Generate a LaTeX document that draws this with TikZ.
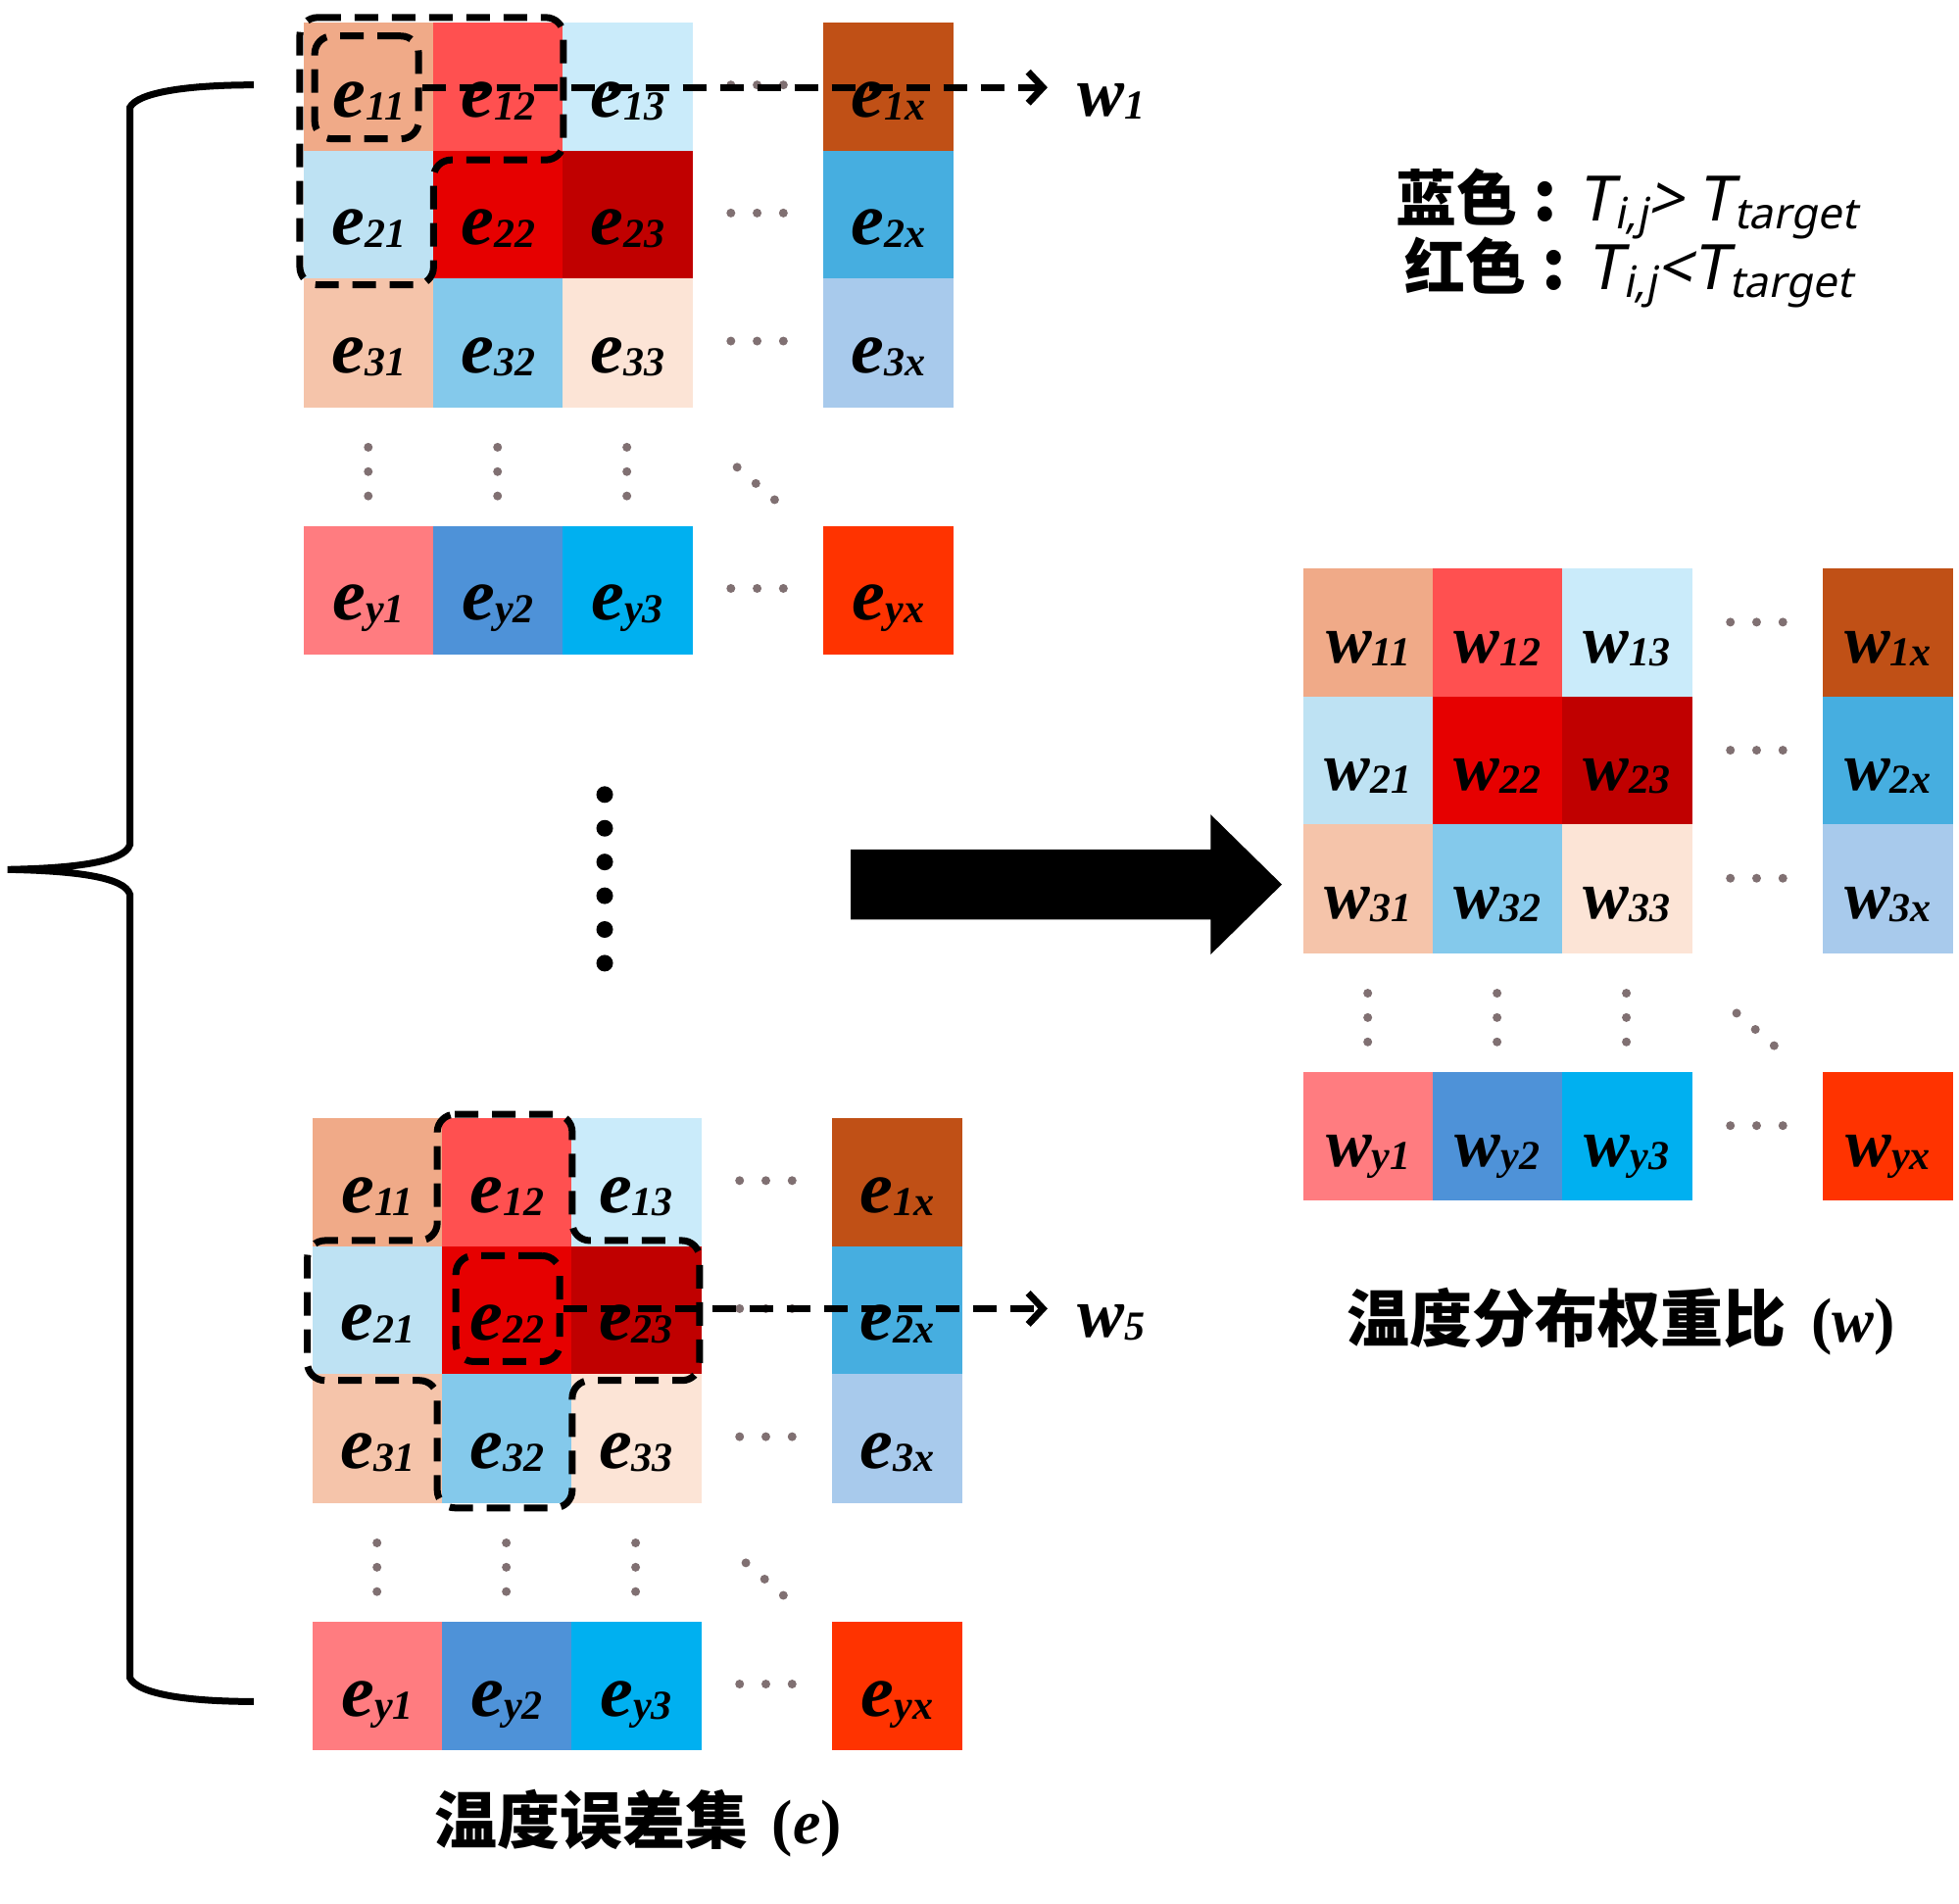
\documentclass[tikz,border=0pt]{standalone}
\usepackage{fontspec}
\setmainfont{Liberation Serif}
\newfontfamily\cjk{Noto Sans CJK SC}
\newfontfamily\tsans[FakeSlant=0.2]{Noto Sans}
\usetikzlibrary{arrows.meta}

\definecolor{col11}{RGB}{240,170,136}
\definecolor{col12}{RGB}{255,80,80}
\definecolor{col13}{RGB}{202,235,250}
\definecolor{col1x}{RGB}{192,80,22}
\definecolor{col21}{RGB}{190,226,243}
\definecolor{col22}{RGB}{230,0,0}
\definecolor{col23}{RGB}{192,0,0}
\definecolor{col2x}{RGB}{70,174,224}
\definecolor{col31}{RGB}{245,196,170}
\definecolor{col32}{RGB}{132,201,235}
\definecolor{col33}{RGB}{252,228,214}
\definecolor{col3x}{RGB}{168,202,236}
\definecolor{coly1}{RGB}{255,124,128}
\definecolor{coly2}{RGB}{78,146,216}
\definecolor{coly3}{RGB}{0,176,240}
\definecolor{colyx}{RGB}{255,51,0}
\definecolor{dotgray}{RGB}{128,112,114}

\newcommand\clab[3]{{\fontsize{#3}{#3}\selectfont\bfseries\itshape #1}{\fontsize{42}{42}\selectfont\bfseries\itshape\raisebox{-3pt}{#2}}}
\newcommand\legsub[1]{\kern1pt\raisebox{-8pt}{\fontsize{44}{44}\selectfont #1}}

\tikzset{
  cellbox/.style={minimum width=133pt, minimum height=131.5pt, inner sep=0pt, outer sep=0pt,
    text height=61pt, text depth=0pt, anchor=north west},
  dsh/.style={draw=black, line width=7pt, dash pattern=on 24pt off 14pt},
  gdot/.style={fill=dotgray},
  barb/.style={-{Straight Barb[length=15pt,width=32pt]}},
}

% prefix, letter, ox, oy, lettersize, dot offset
\newcommand\mygrid[6]{%
  \foreach \r/\ry in {1/0,2/102.5,3/205,y/403}{
    \foreach \c/\cx in {1/0,2/103.5,3/207,x/416}{
      \node[cellbox,fill=col\r\c] (#1\r\c) at (#3+\cx,#4+\ry) {\clab{#2}{\r\c}{#5}};
    }
    \foreach \k in {-1,0,1} \fill[gdot] (#3+363+21*\k,#4+\ry+#6) circle[radius=4.5pt];
  }
  \foreach \cx in {51.75,155.25,258.75} \foreach \dy in {340,359.5,379}
    \fill[gdot] (#3+\cx,#4+\dy) circle[radius=4.5pt];
  \foreach \dx/\dy in {347/356,362/369,377/382}
    \fill[gdot] (#3+\dx,#4+\dy) circle[radius=4.5pt];
}

\begin{document}
\begin{tikzpicture}[x=1.2749pt,y=-1.2749pt]
\useasboundingbox (0,0) rectangle (1568,1524);

% grids
\mygrid{T}{e}{243}{18}{76}{50}
\mygrid{B}{e}{250}{895}{76}{50}
\mygrid{R}{w}{1043}{455}{70}{43}

% brace
\draw[line width=7pt] (203,68) .. controls (150,68) and (110,74) .. (104,86) -- (104,676)
  .. controls (100,690) and (60,695) .. (6,696)
  .. controls (60,697) and (100,702) .. (104,716) -- (104,1343)
  .. controls (110,1356) and (150,1362) .. (203,1362);

% vertical big dots
\foreach \k in {0,...,5} \fill (484,636+27*\k) circle[radius=8.5pt];

% big arrow
\fill (681,680) -- (969,680) -- (969,652) -- (1026,708) -- (969,764) -- (969,736) -- (681,736) -- cycle;

% dashed outlines top
\draw[dsh, rounded corners=18pt] (240,14) -- (451,14) -- (451,128) -- (347,128) -- (347,228) -- (240,228) -- cycle;
\node[dsh, rounded corners=18pt, minimum width=106pt, minimum height=105pt] (box11) at (293.5,70) {};

% dashed outlines bottom
\draw[dsh, rounded corners=18pt] (350,892) -- (458,892) -- (458,993) -- (560,993) -- (560,1105) -- (458,1105)
  -- (458,1207) -- (350,1207) -- (350,1105) -- (246,1105) -- (246,993) -- (350,993) -- cycle;
\node[dsh, rounded corners=18pt, minimum width=106pt, minimum height=108pt] (box22) at (406.5,1047.5) {};

% w labels and dashed arrows
\node[anchor=base west, inner sep=0pt] (w1) at (862,93) {\clab{w}{1}{72}};
\node[anchor=base west, inner sep=0pt] (w5) at (862,1070) {\clab{w}{5}{72}};
\draw[dsh, barb, shorten >=30pt] (box11.east) -- (box11.east -| w1.west);
\draw[dsh, barb, shorten >=30pt] (box22.east) -- (box22.east -| w5.west);

% legend
\node[anchor=base west, inner sep=0pt] (leg1) at (1117,177) {\fontsize{62}{62}\selectfont{\cjk\bfseries 蓝色}\hspace{16pt}{\cjk\bfseries\fontsize{70}{70}\selectfont :}\hspace{22pt}{\tsans\fontsize{64}{64}\selectfont T\legsub{i,j}>\hspace{14pt}T\legsub{target}}};
\node[anchor=base west, inner sep=0pt] (leg2) at (1124,232) {\fontsize{62}{62}\selectfont{\cjk\bfseries 红色}\hspace{16pt}{\cjk\bfseries\fontsize{70}{70}\selectfont :}\hspace{22pt}{\tsans\fontsize{64}{64}\selectfont T\legsub{i,j}<T\legsub{target}}};

% captions
\node[anchor=base west, inner sep=0pt] (cap1) at (348,1476) {\fontsize{64}{64}\selectfont{\cjk\bfseries 温度误差集}\hspace{8pt} \textbf{(\textit{e})}};
\node[anchor=base west, inner sep=0pt] (cap2) at (1078,1074) {\fontsize{64}{64}\selectfont{\cjk\bfseries 温度分布权重比}\hspace{10pt} \textbf{(\textit{w})}};
\end{tikzpicture}
\end{document}
